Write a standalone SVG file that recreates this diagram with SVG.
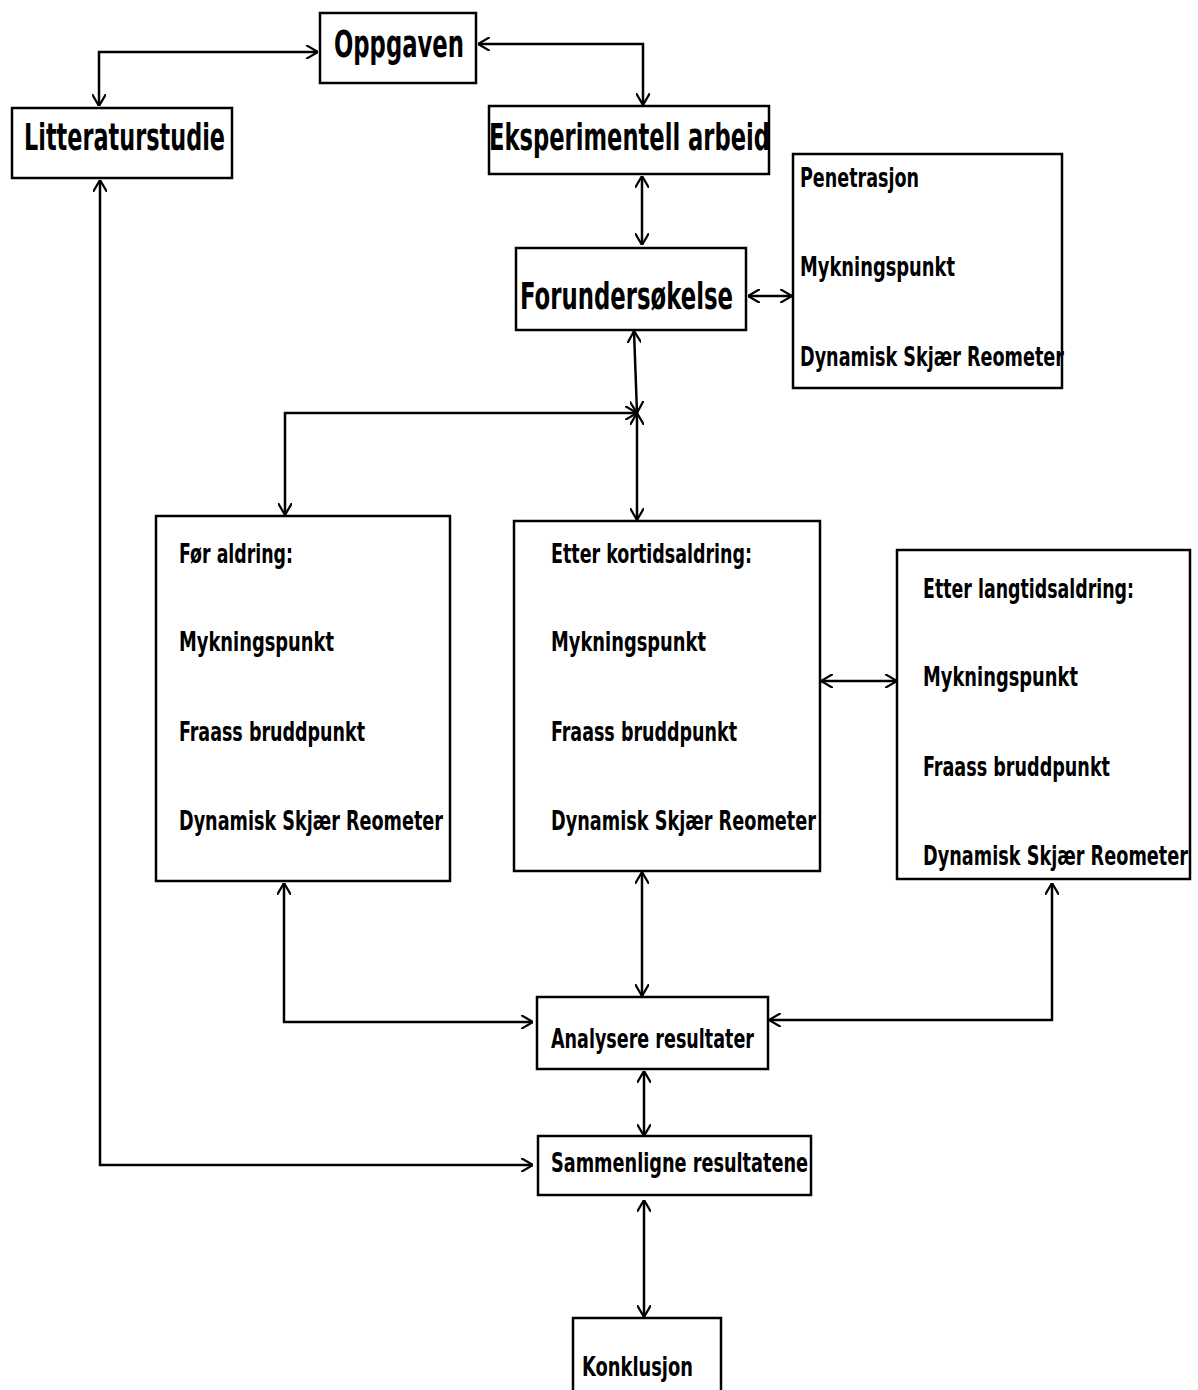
<svg xmlns="http://www.w3.org/2000/svg" width="1198" height="1390" viewBox="0 0 1198 1390">
<style>
.box{fill:#fff;stroke:#000;stroke-width:2.5}
.big{font-family:"Liberation Sans Narrow","DejaVu Sans Condensed","Liberation Sans",sans-serif;font-size:38px;font-weight:bold;fill:#000}
.sm{font-family:"Liberation Sans Narrow","DejaVu Sans Condensed","Liberation Sans",sans-serif;font-size:27px;font-weight:bold;fill:#000}
.ln{fill:none;stroke:#000;stroke-width:2.5}
</style>
<defs>
<marker id="ah" viewBox="0 0 12 14" refX="12" refY="7" markerWidth="12" markerHeight="14" markerUnits="userSpaceOnUse" orient="auto-start-reverse">
<path d="M0,0 L12,7 L0,14" fill="none" stroke="#000" stroke-width="2.2"/>
</marker>
</defs>
<rect width="1198" height="1390" fill="#fff"/>
<g id="connectors">
<path class="ln" d="M99,106 V52 H318" marker-start="url(#ah)" marker-end="url(#ah)"/>
<path class="ln" d="M478,44 H643 V105" marker-start="url(#ah)" marker-end="url(#ah)"/>
<path class="ln" d="M642,176 V245" marker-start="url(#ah)" marker-end="url(#ah)"/>
<path class="ln" d="M748,296 H792" marker-start="url(#ah)" marker-end="url(#ah)"/>
<path class="ln" d="M634,331 L637,413" marker-start="url(#ah)" marker-end="url(#ah)"/>
<path class="ln" d="M637,413 V520" marker-start="url(#ah)" marker-end="url(#ah)"/>
<path class="ln" d="M285,515 V413 H637" marker-start="url(#ah)" marker-end="url(#ah)"/>
<path class="ln" d="M284,883 V1022 H533" marker-start="url(#ah)" marker-end="url(#ah)"/>
<path class="ln" d="M642,872 V996" marker-start="url(#ah)" marker-end="url(#ah)"/>
<path class="ln" d="M821,681 H897" marker-start="url(#ah)" marker-end="url(#ah)"/>
<path class="ln" d="M1052,883 V1020 H769" marker-start="url(#ah)" marker-end="url(#ah)"/>
<path class="ln" d="M644,1071 V1136" marker-start="url(#ah)" marker-end="url(#ah)"/>
<path class="ln" d="M100,180 V1165 H533" marker-start="url(#ah)" marker-end="url(#ah)"/>
<path class="ln" d="M644,1200 V1317" marker-start="url(#ah)" marker-end="url(#ah)"/>
</g>
<g id="oppgaven"><rect class="box" x="320" y="13" width="156" height="70"/><text class="big" x="334" y="57" textLength="130" lengthAdjust="spacingAndGlyphs">Oppgaven</text></g>
<g id="litteraturstudie"><rect class="box" x="12" y="108" width="220" height="70"/><text class="big" x="24" y="150" textLength="201" lengthAdjust="spacingAndGlyphs">Litteraturstudie</text></g>
<g id="eksperimentell"><rect class="box" x="489" y="106" width="280" height="68"/><text class="big" x="489" y="150" textLength="281" lengthAdjust="spacingAndGlyphs">Eksperimentell arbeid</text></g>
<g id="forundersokelse"><rect class="box" x="516" y="248" width="230" height="82"/><text class="big" x="520" y="309" textLength="213" lengthAdjust="spacingAndGlyphs">Forundersøkelse</text></g>
<g id="forundersokelse-tester"><rect class="box" x="793" y="154" width="269" height="234"/>
<text class="sm" x="800" y="187" textLength="119" lengthAdjust="spacingAndGlyphs">Penetrasjon</text>
<text class="sm" x="800" y="276" textLength="155" lengthAdjust="spacingAndGlyphs">Mykningspunkt</text>
<text class="sm" x="800" y="366" textLength="264" lengthAdjust="spacingAndGlyphs">Dynamisk Skjær Reometer</text></g>
<g id="for-aldring"><rect class="box" x="156" y="516" width="294" height="365"/>
<text class="sm" x="179" y="563" textLength="114" lengthAdjust="spacingAndGlyphs">Før aldring:</text>
<text class="sm" x="179" y="651" textLength="155" lengthAdjust="spacingAndGlyphs">Mykningspunkt</text>
<text class="sm" x="179" y="741" textLength="186" lengthAdjust="spacingAndGlyphs">Fraass bruddpunkt</text>
<text class="sm" x="179" y="830" textLength="264" lengthAdjust="spacingAndGlyphs">Dynamisk Skjær Reometer</text></g>
<g id="etter-kortidsaldring"><rect class="box" x="514" y="521" width="306" height="350"/>
<text class="sm" x="551" y="563" textLength="201" lengthAdjust="spacingAndGlyphs">Etter kortidsaldring:</text>
<text class="sm" x="551" y="651" textLength="155" lengthAdjust="spacingAndGlyphs">Mykningspunkt</text>
<text class="sm" x="551" y="741" textLength="186" lengthAdjust="spacingAndGlyphs">Fraass bruddpunkt</text>
<text class="sm" x="551" y="830" textLength="265" lengthAdjust="spacingAndGlyphs">Dynamisk Skjær Reometer</text></g>
<g id="etter-langtidsaldring"><rect class="box" x="897" y="550" width="293" height="329"/>
<text class="sm" x="923" y="598" textLength="211" lengthAdjust="spacingAndGlyphs">Etter langtidsaldring:</text>
<text class="sm" x="923" y="686" textLength="155" lengthAdjust="spacingAndGlyphs">Mykningspunkt</text>
<text class="sm" x="923" y="776" textLength="187" lengthAdjust="spacingAndGlyphs">Fraass bruddpunkt</text>
<text class="sm" x="923" y="865" textLength="265" lengthAdjust="spacingAndGlyphs">Dynamisk Skjær Reometer</text></g>
<g id="analysere"><rect class="box" x="537" y="997" width="231" height="72"/><text class="sm" x="551" y="1048" textLength="203" lengthAdjust="spacingAndGlyphs">Analysere resultater</text></g>
<g id="sammenligne"><rect class="box" x="538" y="1136" width="273" height="59"/><text class="sm" x="551" y="1172" textLength="257" lengthAdjust="spacingAndGlyphs">Sammenligne resultatene</text></g>
<g id="konklusjon"><rect class="box" x="573" y="1318" width="148" height="80"/><text class="sm" x="582" y="1376" textLength="111" lengthAdjust="spacingAndGlyphs">Konklusjon</text></g>
</svg>
